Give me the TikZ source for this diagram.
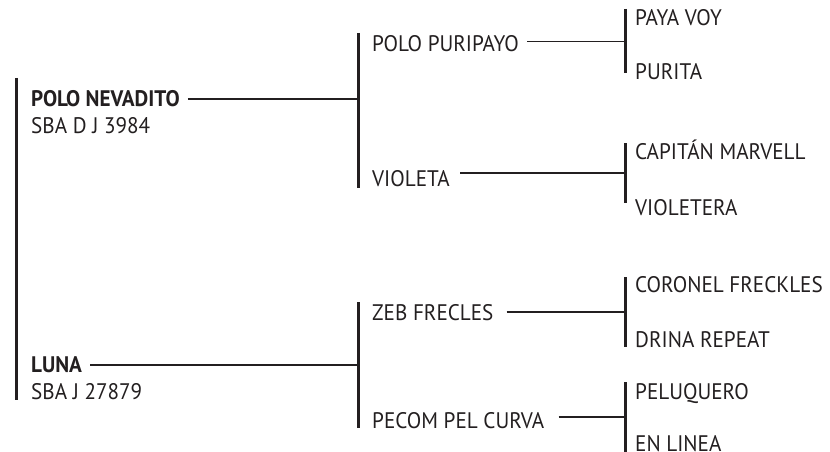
\documentclass[tikz,border=0pt]{standalone}
\usepackage{fontspec}
\setmainfont[FakeStretch=0.94]{PT Sans}
\definecolor{ink}{HTML}{231F20}
\begin{document}
\begin{tikzpicture}[x=1pt,y=-1pt,
  lbl/.style={anchor=base west,inner sep=0pt,text=ink,font=\fontsize{22.5}{26}\selectfont},
  bold/.style={lbl,font=\fontsize{22.5}{26}\selectfont\bfseries},
  bar/.style={draw=ink,line width=3pt},
  link/.style={draw=ink,line width=1.2pt}]
\useasboundingbox (0,0) rectangle (830,452);
% generation 1
\node[bold] (pn) at (31,106.7) {POLO NEVADITO};
\node[lbl]  (pnr) at (31,133) {SBA D J 3984};
\node[bold] (lu) at (31,372) {LUNA};
\node[lbl]  (lur) at (31,399) {SBA J 27879};
% generation 2
\node[lbl] (pp) at (372,52) {POLO PURIPAYO};
\node[lbl] (vi) at (372,186.7) {VIOLETA};
\node[lbl] (zf) at (372,320) {ZEB FRECLES};
\node[lbl] (pc) at (372,428) {PECOM PEL CURVA};
% generation 3
\node[lbl] (pv) at (635,26) {PAYA VOY};
\node[lbl] (pu) at (635,79) {PURITA};
\node[lbl] (cm) at (635,159) {CAPITÁN MARVELL};
\node[lbl] (vt) at (635,215) {VIOLETERA};
\node[lbl] (cf) at (635,292) {CORONEL FRECKLES};
\node[lbl] (dr) at (635,347) {DRINA REPEAT};
\node[lbl] (pe) at (635,399) {PELUQUERO};
\node[lbl] (el) at (635,451) {EN LINEA};
% bars
\coordinate (b0t) at (16,78);  \coordinate (b0b) at (16,400);
\coordinate (b1t) at (358,33); \coordinate (b1b) at (358,188);
\coordinate (b2t) at (358,302); \coordinate (b2b) at (358,428);
\coordinate (b3t) at (625,9);  \coordinate (b3b) at (625,73);
\coordinate (b4t) at (625,143); \coordinate (b4b) at (625,203);
\coordinate (b5t) at (625,277); \coordinate (b5b) at (625,347);
\coordinate (b6t) at (625,382); \coordinate (b6b) at (625,452);
\path[bar] (b0t) -- (b0b);
\path[bar] (b1t) -- (b1b);
\path[bar] (b2t) -- (b2b);
\path[bar] (b3t) -- (b3b);
\path[bar] (b4t) -- (b4b);
\path[bar] (b5t) -- (b5b);
\path[bar] (b6t) -- (b6b);
% junctions
\coordinate (j1) at (358,99);
\coordinate (j2) at (358,365);
\coordinate (j3) at (625,41.5);
\coordinate (j4) at (625,173);
\coordinate (j5) at (625,312);
\coordinate (j6) at (625,417);
\path[link] ([xshift=8pt]pn.east |- j1) -- (j1);
\path[link] ([xshift=8pt]lu.east |- j2) -- (j2);
\path[link] ([xshift=8pt]pp.east |- j3) -- (j3);
\path[link] ([xshift=10pt]vi.east |- j4) -- (j4);
\path[link] ([xshift=13pt]zf.east |- j5) -- (j5);
\path[link] ([xshift=14pt]pc.east |- j6) -- (j6);
\end{tikzpicture}
\end{document}
